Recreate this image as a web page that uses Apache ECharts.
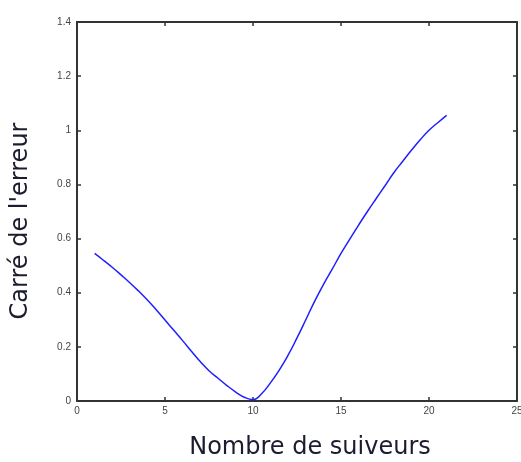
<!DOCTYPE html>
<html>
<head>
<meta charset="utf-8">
<script src="https://cdn.jsdelivr.net/npm/echarts@6/dist/echarts.min.js"></script>
<style>html,body{margin:0;padding:0;background:#fff}#c{width:521px;height:462px}</style>
</head>
<body>
<div id="c"></div>
<script>
const xValues = [1,1.5,2,2.5,3,3.5,4,4.5,5,5.5,6,6.5,7,7.5,8,8.5,9,9.5,10,10.5,11,11.5,12,12.5,13,13.5,14,14.5,15,15.5,16,16.5,17,17.5,18,18.5,19,19.5,20,20.5,21];
const yValues = [0.545,0.52,0.494,0.466,0.437,0.406,0.373,0.337,0.299,0.261,0.223,0.184,0.146,0.112,0.085,0.058,0.034,0.014,0.005,0.028,0.068,0.115,0.17,0.233,0.3,0.368,0.43,0.487,0.545,0.598,0.65,0.7,0.748,0.795,0.843,0.885,0.926,0.965,1.0,1.028,1.055];
const xTitle = "Nombre de suiveurs";
const yTitle = "Carré de l'erreur";

const chart = echarts.init(document.getElementById('c'), null, {renderer:'canvas'});
const axisLine = {show:true, onZero:false, lineStyle:{color:'#333', width:2}};
const tick = {show:true, inside:true, length:4, lineStyle:{color:'#333', width:1.5}};
const lab = {color:'#444', fontSize:10, fontFamily:'Liberation Sans, Arial, sans-serif'};
const titleStyle = {fontSize:24, fill:'#1c1c30', fontFamily:'DejaVu Sans, sans-serif'};
chart.setOption({
  animation:false,
  grid:{left:77, top:22, right:4, bottom:61, containLabel:false, outerBoundsMode:'none'},
  graphic:[
    {type:'text', x:310, y:448, style:Object.assign({text:xTitle, x:0, y:0, align:'center', verticalAlign:'middle'}, titleStyle)},
    {type:'text', rotation:Math.PI/2, x:21, y:221, style:Object.assign({text:yTitle, x:0, y:0, align:'center', verticalAlign:'middle'}, titleStyle)}
  ],
  xAxis:[
    {type:'value', min:0, max:25, interval:5, position:'bottom', axisLine, axisTick:tick,
     splitLine:{show:false}, axisLabel:Object.assign({margin:5}, lab)},
    {type:'value', min:0, max:25, interval:5, position:'top', axisLine, axisTick:tick,
     splitLine:{show:false}, axisLabel:{show:false}}
  ],
  yAxis:[
    {type:'value', min:0, max:1.4, interval:0.2, position:'left', axisLine, axisTick:tick,
     splitLine:{show:false}, axisLabel:Object.assign({margin:6, formatter:v=>String(Math.round(v*10)/10)}, lab)},
    {type:'value', min:0, max:1.4, interval:0.2, position:'right', axisLine, axisTick:tick,
     splitLine:{show:false}, axisLabel:{show:false}}
  ],
  series:[{
    type:'line', xAxisIndex:0, yAxisIndex:0, showSymbol:false, smooth:true,
    data:xValues.map((x,i)=>[x,yValues[i]]),
    lineStyle:{color:'#1f1fff', width:1.5}
  }]
});
</script>
</body>
</html>
